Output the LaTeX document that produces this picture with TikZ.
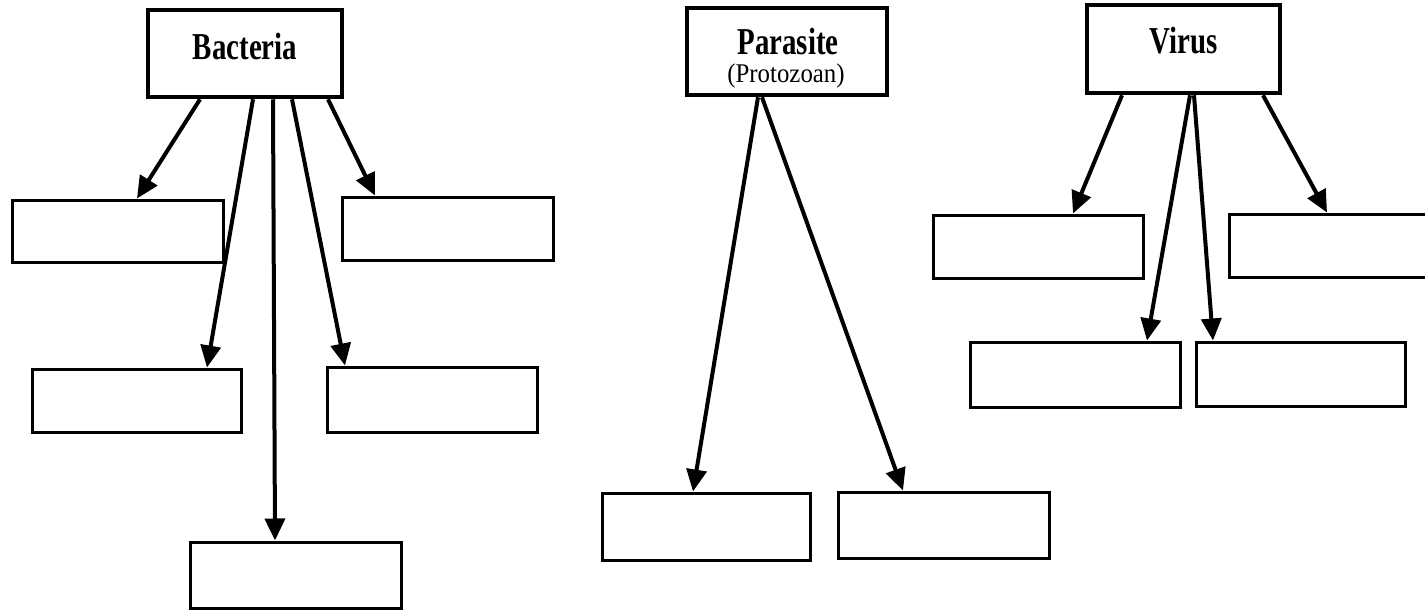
\documentclass[tikz,border=0pt]{standalone}
\usepackage{fontspec}
\setmainfont{Liberation Serif}
\usetikzlibrary{arrows.meta}
\begin{document}
\begin{tikzpicture}[x=1pt,y=-1pt,
  topbox/.style={draw,line width=4.5pt,inner sep=0pt,minimum width=#1},
  leafbox/.style={draw,line width=3pt,inner sep=0pt},
  lbl/.style={inner sep=0pt,font=\fontsize{38}{40}\selectfont\bfseries,xscale=0.76},
  sublbl/.style={inner sep=0pt,font=\fontsize{27}{29}\selectfont,xscale=0.92},
  arr/.style={line width=4pt,-{Triangle[length=22pt,width=20pt]}}]
\clip (0,0) rectangle (1425,611);
\fill[white] (0,0) rectangle (1425,611);
% top boxes
\node[topbox=194pt,minimum height=87pt] (bac) at (245,53.5) {};
\node[lbl] (bact) at (245,46) {Bacteria};
\node[topbox=200pt,minimum height=87pt] (par) at (787,51.5) {};
\node[lbl] (part) at (788,41) {Parasite};
\node[sublbl] (prot) at (786,76) {(Protozoan)};
\node[topbox=193pt,minimum height=88pt] (vir) at (1183.5,49) {};
\node[lbl] (virt) at (1183.5,41) {Virus};
% bacteria leaves
\node[leafbox,minimum width=211pt,minimum height=62pt] (b1) at (117.5,231) {};
\node[leafbox,minimum width=211pt,minimum height=63pt] (b2) at (447.5,228.5) {};
\node[leafbox,minimum width=209pt,minimum height=63pt] (b3) at (136.5,400.5) {};
\node[leafbox,minimum width=210pt,minimum height=65pt] (b4) at (432,399.5) {};
\node[leafbox,minimum width=211pt,minimum height=66pt] (b5) at (295.5,575) {};
% parasite leaves
\node[leafbox,minimum width=208pt,minimum height=67pt] (p1) at (706,526.5) {};
\node[leafbox,minimum width=211pt,minimum height=66pt] (p2) at (943.5,525) {};
% virus leaves
\node[leafbox,minimum width=210pt,minimum height=63pt] (v1) at (1038,246.5) {};
\node[leafbox,minimum width=230pt,minimum height=63pt] (v2) at (1344,245.5) {};
\node[leafbox,minimum width=210pt,minimum height=65pt] (v3) at (1075,374.5) {};
\node[leafbox,minimum width=209pt,minimum height=64pt] (v4) at (1300.5,374) {};
% arrows
\draw[arr] ([xshift=-45pt]bac.south) -- ([xshift=19.5pt]b1.north);
\draw[arr] ([xshift=8pt]bac.south) -- ([xshift=70.5pt]b3.north);
\draw[arr] ([xshift=28pt]bac.south) -- ([xshift=-20.5pt]b5.north);
\draw[arr] ([xshift=47pt]bac.south) -- ([xshift=-87pt]b4.north);
\draw[arr] ([xshift=83pt]bac.south) -- ([xshift=-72.5pt]b2.north);
\draw[arr] ([xshift=-29pt]par.south) -- ([xshift=-13pt]p1.north);
\draw[arr] ([xshift=-25pt]par.south) -- ([xshift=-40.5pt]p2.north);
\draw[arr] ([xshift=-61.5pt]vir.south) -- ([xshift=35pt]v1.north);
\draw[arr] ([xshift=6.5pt]vir.south) -- ([xshift=72pt]v3.north);
\draw[arr] ([xshift=10.5pt]vir.south) -- ([xshift=-87.5pt]v4.north);
\draw[arr] ([xshift=79.5pt]vir.south) -- ([xshift=-17pt]v2.north);
\end{tikzpicture}
\end{document}
